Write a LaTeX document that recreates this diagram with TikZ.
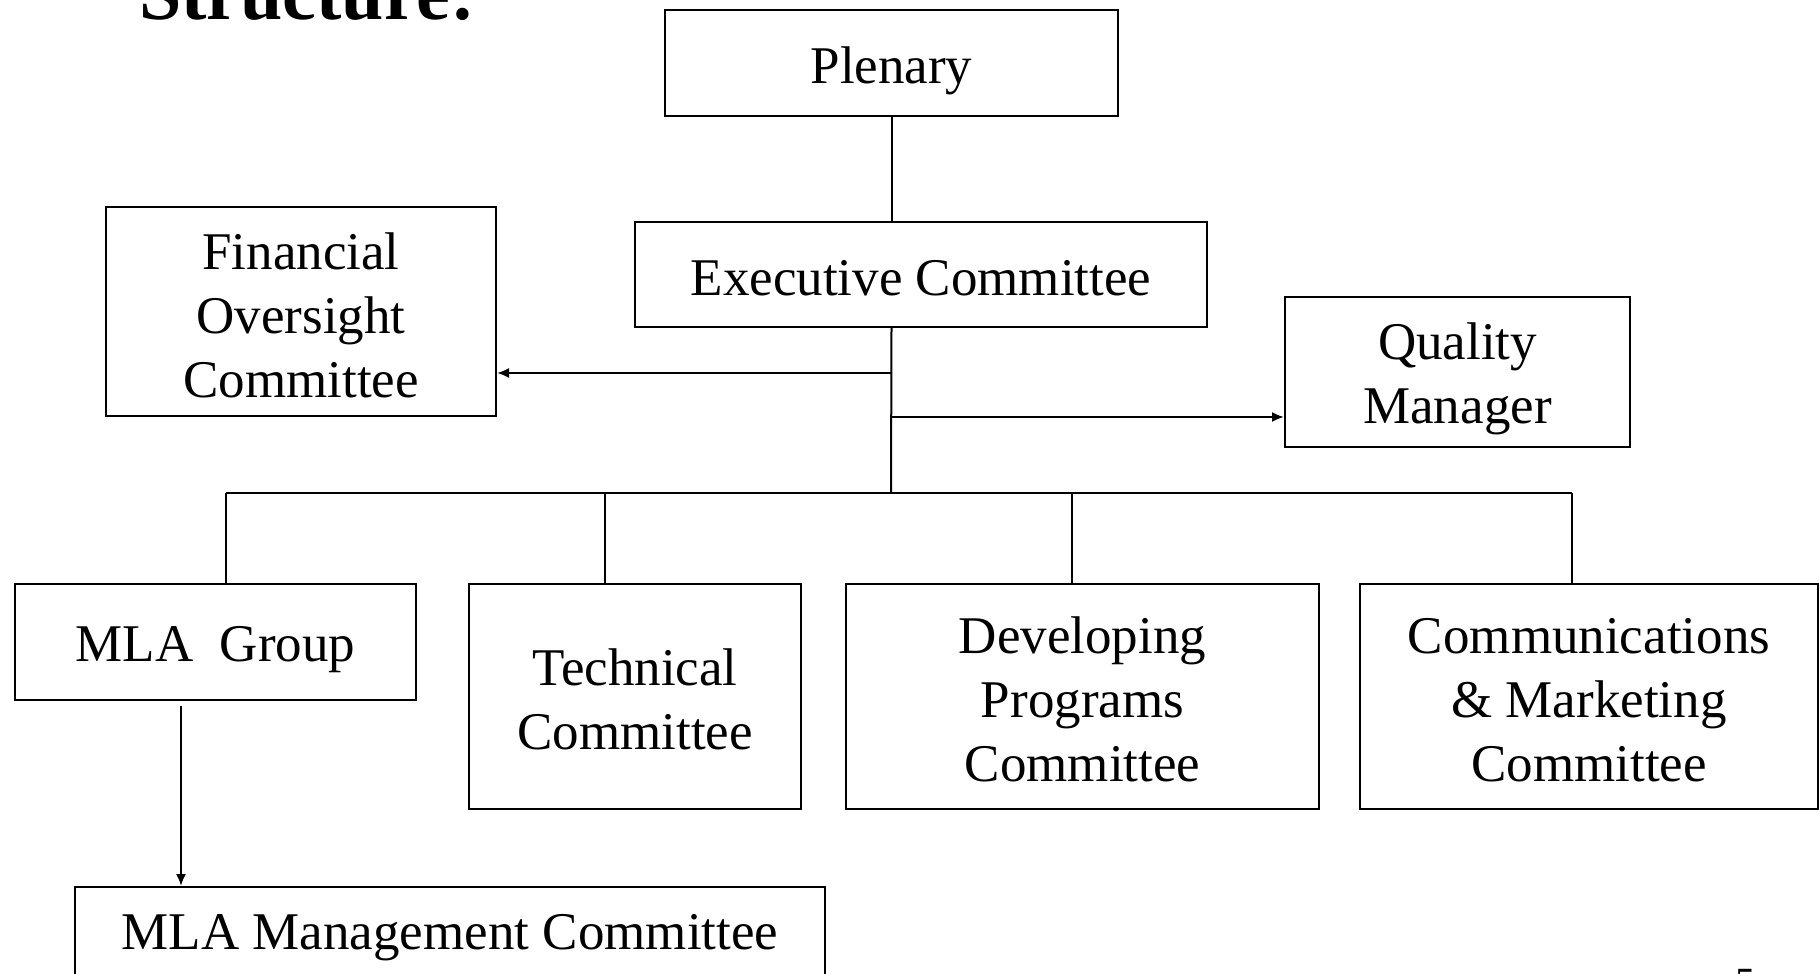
\documentclass[tikz,border=0pt]{standalone}
\usepackage{fontspec}
\setmainfont{Liberation Serif}
\usetikzlibrary{arrows.meta}
\begin{document}
\begin{tikzpicture}[x=1pt,y=-1pt,
  box/.style={draw, line width=2pt, inner sep=0pt},
  txt/.style={inner sep=0pt, align=center, font=\fontsize{53}{64}\selectfont},
  conn/.style={line width=2pt},
  arr/.style={conn, -{Latex[length=12pt,width=10pt]}}]
\useasboundingbox (0,0) rectangle (1820,974);
\node[anchor=base west, inner sep=0pt, font=\fontsize{76}{84}\selectfont\bfseries] (title) at (139,20) {Structure:};
\node[anchor=north, inner sep=0pt, font=\fontsize{40}{48}\selectfont] (pg) at (1745,969) {5};

\node[box, minimum width=453pt, minimum height=106pt] (plen) at (891.5,63) {};
\node[box, minimum width=572pt, minimum height=105pt] (exec) at (921,274.5) {};
\node[box, minimum width=390pt, minimum height=209pt] (fin) at (301,311.5) {};
\node[box, minimum width=345pt, minimum height=150pt] (qual) at (1457.5,372) {};
\node[box, minimum width=401pt, minimum height=116pt] (mlag) at (215.5,642) {};
\node[box, minimum width=332pt, minimum height=225pt] (tech) at (635,696.5) {};
\node[box, minimum width=473pt, minimum height=225pt] (dev) at (1082.5,696.5) {};
\node[box, minimum width=458pt, minimum height=225pt] (comm) at (1589,696.5) {};
\node[box, minimum width=750pt, minimum height=90pt] (mgmt) at (450,932) {};

\node[txt, yshift=-8pt] (plenT) at (plen) {Plenary};
\node[txt, yshift=-3.5pt] (execT) at (exec) {Executive Committee};
\node[txt, yshift=-3.5pt] (finT) at (fin) {Financial\\Oversight\\Committee};
\node[txt, yshift=-7pt] (qualT) at (qual) {Quality\\Manager};
\node[txt, yshift=-8pt] (mlagT) at (mlag) {MLA\ \ Group};
\node[txt, yshift=-2.5pt] (techT) at (tech) {Technical\\Committee};
\node[txt, yshift=-2.5pt] (devT) at (dev) {Developing\\Programs\\Committee};
\node[txt, yshift=-3.5pt] (commT) at (comm) {Communications\\\& Marketing\\Committee};
\node[txt, yshift=-6pt] (mgmtT) at (mgmt) {MLA Management Committee};

\coordinate (bus) at (891,493);
\coordinate (fa) at (891,373);
\coordinate (qa) at (891,417);
\coordinate (busL) at (226,493);
\coordinate (busT) at (605,493);
\coordinate (busD) at (1072,493);
\coordinate (busR) at (1572,493);
\coordinate (ma) at (181,706);

\draw[conn] (plen.south) -- (plen.south |- exec.north);
\draw[conn] (plen.south |- exec.south) -- (bus);
\draw[arr] (fa) -- (fa -| fin.east);
\draw[arr] (qa) -- (qa -| qual.west);
\draw[conn] (busL) -- (busR);
\draw[conn] (busL) -- (busL |- mlag.north);
\draw[conn] (busT) -- (busT |- tech.north);
\draw[conn] (busD) -- (busD |- dev.north);
\draw[conn] (busR) -- (busR |- comm.north);
\draw[arr] (ma) -- (ma |- mgmt.north);
\end{tikzpicture}
\end{document}
